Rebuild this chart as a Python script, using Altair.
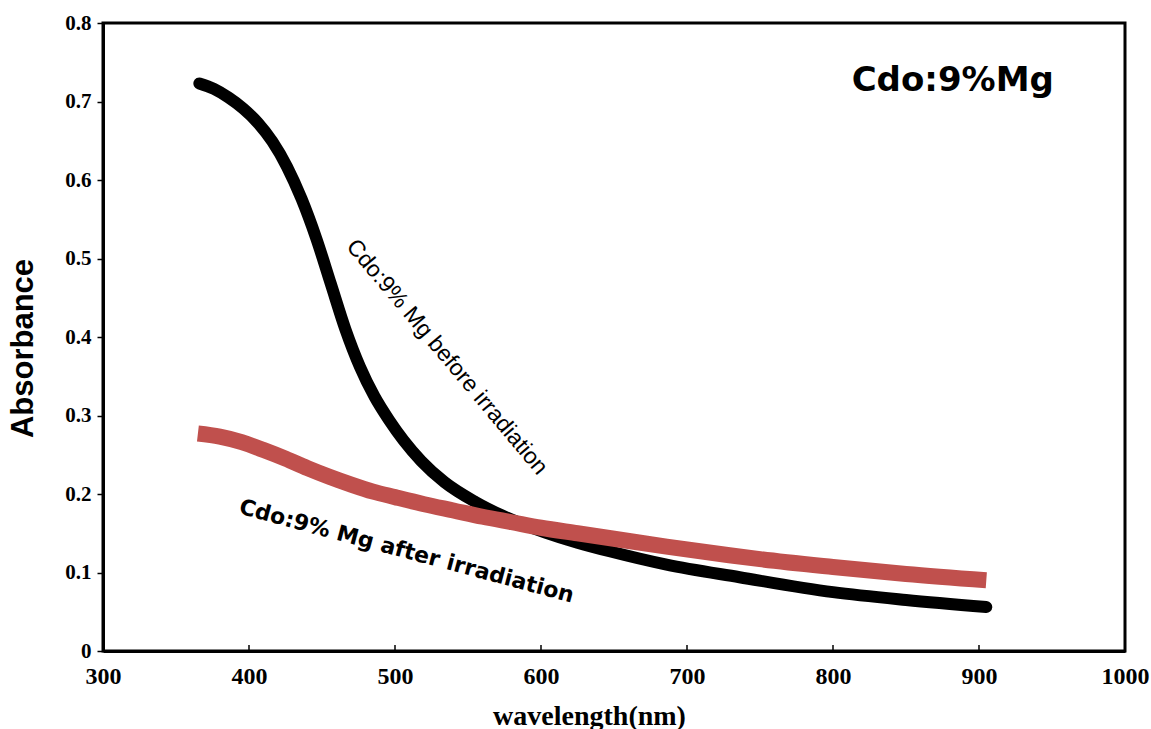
import altair as alt
import pandas as pd

# Absorbance spectra of CdO doped with 9% Mg
wl_before = [366, 376, 386, 396, 406, 416, 426, 436, 446, 456, 466, 476, 486, 496,
             506, 518, 534, 555, 579, 603, 625, 647, 686, 736, 800, 850, 905]
abs_before = [0.723, 0.716, 0.705, 0.691, 0.673, 0.649, 0.617, 0.576, 0.526, 0.468,
              0.410, 0.362, 0.324, 0.294, 0.268, 0.242, 0.215, 0.190, 0.168, 0.151,
              0.138, 0.127, 0.110, 0.094, 0.075, 0.065, 0.056]

wl_after = [365, 380, 395, 410, 425, 440, 455, 470, 485, 500, 520, 540, 560, 580,
            600, 625, 650, 686, 729, 750, 800, 850, 905]
abs_after = [0.277, 0.273, 0.266, 0.256, 0.245, 0.233, 0.222, 0.212, 0.203, 0.196,
             0.187, 0.179, 0.171, 0.164, 0.157, 0.150, 0.143, 0.133, 0.122, 0.117,
             0.107, 0.098, 0.090]

x_ticks = [300, 400, 500, 600, 700, 800, 900, 1000]
y_ticks = [0, 0.1, 0.2, 0.3, 0.4, 0.5, 0.6, 0.7, 0.8]

before = pd.DataFrame({"wavelength": wl_before, "absorbance": abs_before})
after = pd.DataFrame({"wavelength": wl_after, "absorbance": abs_after})
inner_ticks = pd.DataFrame({"wavelength": x_ticks[1:-1], "y0": 0.0, "y1": 0.0075})

x_scale = alt.Scale(domain=[300, 1000], nice=False, zero=False)
y_scale = alt.Scale(domain=[0, 0.8], nice=False)

x_axis = alt.Axis(
    title="wavelength(nm)", values=x_ticks, format="d", grid=False, ticks=False,
    domainColor="black", domainWidth=3, labelFlush=False,
    labelFont="Liberation Serif", labelFontWeight="bold", labelFontSize=24,
    labelColor="black", labelPadding=13,
    titleFont="Liberation Serif", titleFontWeight="bold", titleFontSize=28,
    titleColor="black", titleX=486, titleY=73, titleBaseline="alphabetic",
    titleAlign="center",
)
y_axis = alt.Axis(
    title="Absorbance", values=y_ticks, grid=False, labelFlush=False,
    labelExpr="datum.value == 0 ? '0' : format(datum.value, '.1f')",
    tickColor="black", tickWidth=1.5, tickSize=6,
    domainColor="black", domainWidth=3,
    labelFont="Liberation Serif", labelFontWeight="bold", labelFontSize=21,
    labelColor="black", labelPadding=6,
    titleFont="Liberation Sans", titleFontWeight="bold", titleFontSize=31,
    titleColor="black", titleX=-80, titleY=325, titleAngle=270,
    titleAlign="center", titleBaseline="middle",
)

before_line = alt.Chart(before).mark_line(
    color="black", strokeWidth=12, strokeCap="round", strokeJoin="round",
    interpolate="monotone",
).encode(
    x=alt.X("wavelength:Q", scale=x_scale, axis=x_axis),
    y=alt.Y("absorbance:Q", scale=y_scale, axis=y_axis),
)

after_line = alt.Chart(after).mark_line(
    color="#C0504D", strokeWidth=16, strokeCap="butt", interpolate="monotone",
).encode(
    x=alt.X("wavelength:Q", scale=x_scale),
    y=alt.Y("absorbance:Q", scale=y_scale),
)

tick_marks = alt.Chart(inner_ticks).mark_rule(color="black", strokeWidth=1.5).encode(
    x=alt.X("wavelength:Q", scale=x_scale),
    y=alt.Y("y0:Q", scale=y_scale),
    y2="y1:Q",
)

labels = pd.DataFrame({
    "wavelength": [882, 535.6, 508],
    "absorbance": [0.726, 0.3745, 0.127],
    "text": ["Cdo:9%Mg", "Cdo:9% Mg before irradiation", "Cdo:9%  Mg after irradiation"],
})


def label_layer(i, **style):
    return alt.Chart(labels.iloc[[i]]).mark_text(
        color="black", align="center", baseline="middle", **style
    ).encode(
        x=alt.X("wavelength:Q", scale=x_scale),
        y=alt.Y("absorbance:Q", scale=y_scale),
        text="text:N",
    )


title_text = label_layer(0, font="DejaVu Sans", fontWeight="bold", fontSize=34)
before_text = label_layer(1, font="Liberation Sans", fontSize=23, angle=50)
after_text = label_layer(2, font="DejaVu Sans", fontWeight="bold", fontSize=22, angle=15)

chart = alt.layer(
    tick_marks, before_line, after_line, title_text, before_text, after_text
).properties(
    width=1022,
    height=628,
    autosize=alt.AutoSizeParams(type="none"),
    padding={"left": 103, "top": 23, "right": 26, "bottom": 78},
    background="white",
).configure_view(
    stroke="black", strokeWidth=3,
)

chart.save("out.html", embed_options={"renderer": "svg", "actions": False})
